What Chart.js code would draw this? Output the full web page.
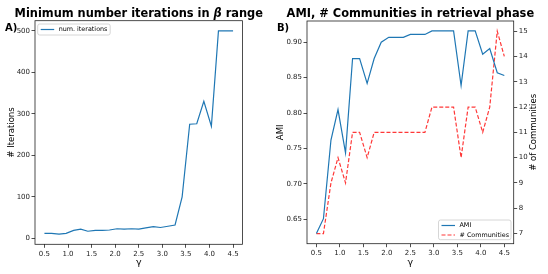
<!DOCTYPE html>
<html>
<head>
<meta charset="utf-8">
<script src="https://cdn.jsdelivr.net/npm/chart.js@4.4.0/dist/chart.umd.min.js"></script>
<style>
body { margin: 0; background: #fff; }
#wrap { position: relative; width: 548px; height: 274px; }
#left { position: absolute; left: 0; top: 0; }
#right { position: absolute; left: 274px; top: 0; }
</style>
</head>
<body>
<div id="wrap">
<canvas id="left" width="274" height="274"></canvas>
<canvas id="right" width="274" height="274"></canvas>
</div>
<script>
// gamma values (x axis, both panels)
var gamma = [0.50, 0.65, 0.81, 0.96, 1.12, 1.27, 1.42, 1.58, 1.73, 1.88, 2.04, 2.19, 2.35, 2.50,
             2.65, 2.81, 2.96, 3.12, 3.27, 3.42, 3.58, 3.73, 3.88, 4.04, 4.19, 4.35, 4.50];
// panel A
var iterations = [12, 12, 10, 12, 19, 22, 17, 19, 19, 20, 23, 22, 23, 22,
                  25, 28, 26, 29, 32, 100, 275, 276, 330, 270, 500, 500, 500];
// panel B
var ami = [0.630, 0.651, 0.762, 0.805, 0.744, 0.877, 0.877, 0.842, 0.877, 0.900, 0.907, 0.907, 0.907, 0.911,
           0.911, 0.911, 0.916, 0.916, 0.916, 0.916, 0.839, 0.916, 0.916, 0.883, 0.891, 0.857, 0.853];
var communities = [7, 7, 9, 10, 9, 11, 11, 10, 11, 11, 11, 11, 11, 11,
                   11, 11, 12, 12, 12, 12, 10, 12, 12, 11, 12, 15, 14];

var xTicks = [0.5, 1.0, 1.5, 2.0, 2.5, 3.0, 3.5, 4.0, 4.5];
var iterTicks = [0, 100, 200, 300, 400, 500];
var amiTicks = [0.65, 0.70, 0.75, 0.80, 0.85, 0.90];
var commTicks = [7, 8, 9, 10, 11, 12, 13, 14, 15];

var FONT = 'DejaVu Sans';
var BLUE = '#1f77b4';
var RED = 'rgba(255,0,0,0.78)';

function pts(ys) {
	return gamma.map(function(g, i) { return {x: g, y: ys[i]}; });
}

function tickGrid() {
	return {drawOnChartArea: false, drawTicks: true, tickLength: 3.5, color: '#222', lineWidth: 0.8};
}
function tickFont() {
	return {family: FONT, size: 7};
}

// frame, title, panel letter, legend, extra labels
var decor = {
	id: 'decor',
	afterDraw: function(chart, args, o) {
		var ctx = chart.ctx, a = chart.chartArea;
		ctx.save();
		ctx.strokeStyle = '#222';
		ctx.lineWidth = 0.8;
		ctx.strokeRect(a.left, a.top, a.right - a.left, a.bottom - a.top);

		// title, pieces may be italic (math symbols)
		ctx.fillStyle = '#000';
		ctx.textBaseline = 'alphabetic';
		ctx.textAlign = 'left';
		var bold = 'bold 11.4px "' + FONT + '"';
		var ital = 'bold italic 11.4px "' + FONT + '"';
		var total = 0;
		o.title.forEach(function(p) {
			ctx.font = p.it ? ital : bold;
			total += ctx.measureText(p.t).width;
		});
		var tx = (a.left + a.right) / 2 - total / 2;
		o.title.forEach(function(p) {
			ctx.font = p.it ? ital : bold;
			ctx.fillText(p.t, tx, 16.7);
			tx += ctx.measureText(p.t).width;
		});
		ctx.font = 'bold 10px "' + FONT + '"';
		ctx.fillText(o.panel, o.panelX, 31);

		if (o.rightTitle) {
			ctx.save();
			ctx.translate(o.rightTitle.x, (a.top + a.bottom) / 2);
			ctx.rotate(-Math.PI / 2);
			ctx.textAlign = 'center';
			ctx.textBaseline = 'middle';
			ctx.font = '8.5px "' + FONT + '"';
			ctx.fillText(o.rightTitle.text, 0, 0);
			ctx.restore();
		}

		// legend box
		var lg = o.legend;
		ctx.fillStyle = 'rgba(255,255,255,0.85)';
		ctx.strokeStyle = '#cccccc';
		ctx.lineWidth = 0.8;
		ctx.beginPath();
		ctx.roundRect(lg.x, lg.y, lg.w, lg.h, 2);
		ctx.fill();
		ctx.stroke();
		ctx.font = '6.4px "' + FONT + '"';
		ctx.textBaseline = 'middle';
		ctx.textAlign = 'left';
		chart.data.datasets.forEach(function(ds, i) {
			var yy = lg.y + 5.5 + i * 9.5;
			ctx.strokeStyle = ds.borderColor;
			ctx.lineWidth = ds.borderWidth;
			ctx.setLineDash(ds.borderDash || []);
			ctx.beginPath();
			ctx.moveTo(lg.x + 3, yy);
			ctx.lineTo(lg.x + 16.5, yy);
			ctx.stroke();
			ctx.setLineDash([]);
			ctx.fillStyle = '#000';
			ctx.fillText(ds.label, lg.x + 21, yy);
		});
		ctx.restore();
	}
};

new Chart(document.getElementById('left'), {
	type: 'line',
	data: {
		datasets: [{
			label: 'num. iterations',
			data: pts(iterations),
			borderColor: BLUE,
			borderWidth: 1.2,
			pointRadius: 0,
			tension: 0
		}]
	},
	options: {
		responsive: false,
		animation: false,
		layout: {padding: {left: 0, top: 20.7, right: 31.5, bottom: 0}},
		plugins: {
			legend: {display: false},
			tooltip: {enabled: false},
			decor: {
				title: [{t: 'Minimum number iterations in '}, {t: 'β', it: true}, {t: ' range'}],
				panel: 'A)', panelX: 5,
				legend: {x: 37.7, y: 24, w: 72.5, h: 11}
			}
		},
		scales: {
			x: {
				type: 'linear', min: 0.3, max: 4.7,
				afterBuildTicks: function(s) { s.ticks = xTicks.map(function(v) { return {value: v}; }); },
				afterFit: function(s) { s.height = 29.7; },
				grid: tickGrid(),
				border: {display: false},
				ticks: {font: tickFont(), color: '#222', padding: 2, maxRotation: 0, autoSkip: false,
					callback: function(v) { return v.toFixed(1); }},
				title: {display: true, text: 'γ', color: '#000', font: {family: FONT, size: 9.5}, padding: {top: 0, bottom: 6}}
			},
			y: {
				type: 'linear', min: -14.5, max: 524.5,
				afterBuildTicks: function(s) { s.ticks = iterTicks.map(function(v) { return {value: v}; }); },
				afterFit: function(s) { s.width = 35; },
				grid: tickGrid(),
				border: {display: false},
				ticks: {font: tickFont(), color: '#222', padding: 1.5, autoSkip: false},
				title: {display: true, text: '# Iterations', color: '#000', font: {family: FONT, size: 8.5}, padding: {top: 6.5, bottom: 0}}
			}
		}
	},
	plugins: [decor]
});

new Chart(document.getElementById('right'), {
	type: 'line',
	data: {
		datasets: [{
			label: 'AMI',
			data: pts(ami),
			yAxisID: 'y',
			borderColor: BLUE,
			borderWidth: 1.2,
			pointRadius: 0,
			tension: 0
		}, {
			label: '# Communities',
			data: pts(communities),
			yAxisID: 'y1',
			borderColor: RED,
			borderWidth: 1.2,
			borderDash: [4, 2],
			pointRadius: 0,
			tension: 0
		}]
	},
	options: {
		responsive: false,
		animation: false,
		layout: {padding: {left: 0, top: 21, right: 0, bottom: 0}},
		plugins: {
			legend: {display: false},
			tooltip: {enabled: false},
			decor: {
				title: [{t: 'AMI, # Communities in retrieval phase'}],
				panel: 'B)', panelX: 3,
				rightTitle: {text: '# of Communities', x: 260},
				legend: {x: 164.5, y: 220, w: 72.5, h: 19.7}
			}
		},
		scales: {
			x: {
				type: 'linear', min: 0.3, max: 4.7,
				afterBuildTicks: function(s) { s.ticks = xTicks.map(function(v) { return {value: v}; }); },
				afterFit: function(s) { s.height = 30.3; },
				grid: tickGrid(),
				border: {display: false},
				ticks: {font: tickFont(), color: '#222', padding: 2, maxRotation: 0, autoSkip: false,
					callback: function(v) { return v.toFixed(1); }},
				title: {display: true, text: 'γ', color: '#000', font: {family: FONT, size: 9.5}, padding: {top: 0, bottom: 6}}
			},
			y: {
				type: 'linear', position: 'left', min: 0.6157, max: 0.930,
				afterBuildTicks: function(s) { s.ticks = amiTicks.map(function(v) { return {value: v}; }); },
				afterFit: function(s) { s.width = 33; },
				grid: tickGrid(),
				border: {display: false},
				ticks: {font: tickFont(), color: '#222', padding: 1.5, autoSkip: false,
					callback: function(v) { return v.toFixed(2); }},
				title: {display: true, text: 'AMI', color: '#000', font: {family: FONT, size: 8.5}, padding: {top: 2, bottom: 0}}
			},
			y1: {
				type: 'linear', position: 'right', min: 6.6, max: 15.4,
				afterBuildTicks: function(s) { s.ticks = commTicks.map(function(v) { return {value: v}; }); },
				afterFit: function(s) { s.width = 34.3; },
				grid: tickGrid(),
				border: {display: false},
				ticks: {font: tickFont(), color: '#222', padding: 1.5, autoSkip: false},
				title: {display: false}
			}
		}
	},
	plugins: [decor]
});
</script>
</body>
</html>
